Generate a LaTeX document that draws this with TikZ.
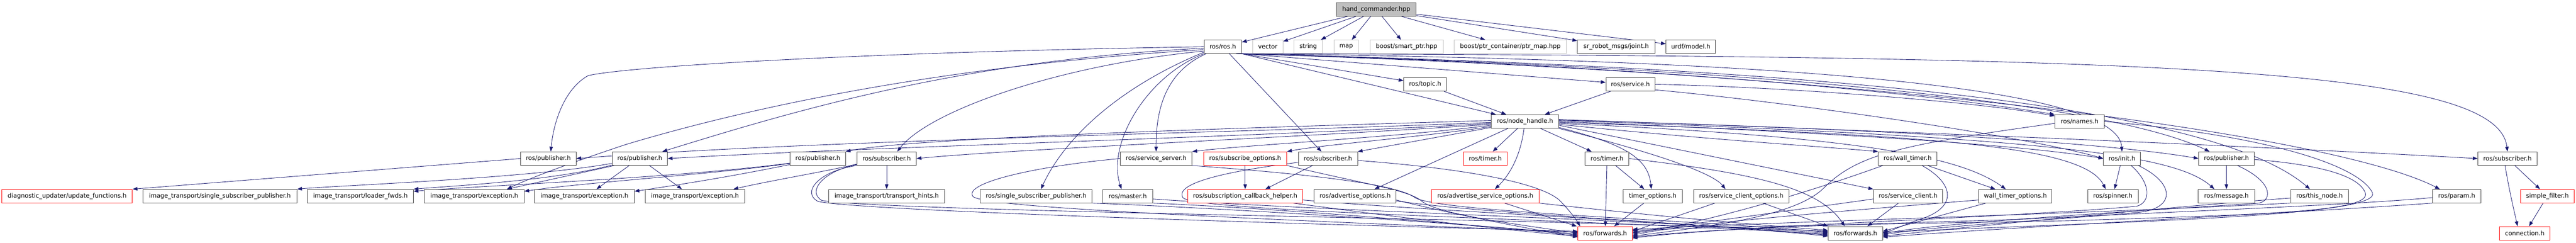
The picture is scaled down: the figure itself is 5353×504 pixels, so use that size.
\documentclass[tikz,border=0pt]{standalone}
\usepackage{fontspec}
\setmainfont{DejaVu Sans}
\usetikzlibrary{arrows.meta,calc}
\definecolor{edgec}{HTML}{191970}
\definecolor{nodeb}{HTML}{404040}
\definecolor{grayb}{HTML}{BFBFBF}
\pgfdeclarelayer{bg}
\pgfsetlayers{bg,main}
\begin{document}
\begin{tikzpicture}[x=0.75pt,y=-0.75pt,font=\fontsize{9.5}{11}\selectfont,
  nb/.style={draw=nodeb,fill=white,line width=0.75pt,minimum height=21pt,inner sep=0pt,text=black},
  ng/.style={nb,draw=grayb},
  nr/.style={nb,draw=red},
  bw/.style={minimum width=#1*0.75pt},
  e/.style={draw=edgec,line width=0.7pt,-{Triangle[length=7.5pt,width=5.5pt]}}]
\useasboundingbox (0,0) rectangle (5353,504);
% row 0
\node[nb,fill=grayb,bw=166] (hc) at (2860,19.5) {hand\_commander.hpp};
% row 1
\node[nb,bw=78] (rosh) at (2541,97) {ros/ros.h};
\node[ng,bw=63] (vector) at (2634.5,97) {vector};
\node[ng,bw=59] (string) at (2718.5,97) {string};
\node[ng,bw=51] (map) at (2797.5,97) {map};
\node[ng,bw=152] (smartptr) at (2923,97) {boost/smart\_ptr.hpp};
\node[ng,bw=233] (ptrmap) at (3138.5,97) {boost/ptr\_container/ptr\_map.hpp};
\node[nb,bw=161] (joint) at (3358.5,97) {sr\_robot\_msgs/joint.h};
\node[nb,bw=103] (model) at (3513.5,97) {urdf/model.h};
% row 2
\node[nb,bw=89] (topic) at (2961.5,175) {ros/topic.h};
\node[nb,bw=102] (service) at (3388,175) {ros/service.h};
% row 3
\node[nb,bw=140] (nh) at (3169,252) {ros/node\_handle.h};
\node[nb,bw=103] (names) at (4321.5,252) {ros/names.h};
% row 4
\node[nb,bw=115] (pubA) at (1139.5,329) {ros/publisher.h};
\node[nb,bw=115] (pubB) at (1329.5,329) {ros/publisher.h};
\node[nb,bw=115] (pubC) at (1699.5,329) {ros/publisher.h};
\node[nb,bw=123] (subA) at (1842.5,329) {ros/subscriber.h};
\node[nb,bw=149] (servserver) at (2402.5,329) {ros/service\_server.h};
\node[nr,bw=173] (subopts) at (2587.5,329) {ros/subscribe\_options.h};
\node[nb,bw=123] (subB) at (2759.5,329) {ros/subscriber.h};
\node[nr,bw=91] (timerR) at (3086.5,329) {ros/timer.h};
\node[nb,bw=91] (timer) at (3339.5,329) {ros/timer.h};
\node[nb,bw=122] (walltimer) at (3964,329) {ros/wall\_timer.h};
\node[nb,bw=77] (init) at (4409.5,329) {ros/init.h};
\node[nb,bw=115] (pubD) at (4626.5,329) {ros/publisher.h};
\node[nb,bw=123] (subC) at (5210.5,329) {ros/subscriber.h};
% row 5
\node[nr,bw=271] (diag) at (139.5,407) {diagnostic\_updater/update\_functions.h};
\node[nb,bw=320] (itssp) at (457,407) {image\_transport/single\_subscriber\_publisher.h};
\node[nb,bw=220] (loader) at (749,407) {image\_transport/loader\_fwds.h};
\node[nb,bw=207] (exc1) at (985.5,407) {image\_transport/exception.h};
\node[nb,bw=207] (exc2) at (1214.5,407) {image\_transport/exception.h};
\node[nb,bw=206] (exc3) at (1444,407) {image\_transport/exception.h};
\node[nb,bw=241] (hints) at (1842.5,407) {image\_transport/transport\_hints.h};
\node[nb,bw=232] (rssp) at (2153,407) {ros/single\_subscriber\_publisher.h};
\node[nb,bw=103] (master) at (2343.5,407) {ros/master.h};
\node[nr,bw=239] (subcb) at (2587.5,407) {ros/subscription\_callback\_helper.h};
\node[nb,bw=170] (advopts) at (2816,407) {ros/advertise\_options.h};
\node[nr,bw=223] (advsrv) at (3086.5,407) {ros/advertise\_service\_options.h};
\node[nb,bw=123] (timeropts) at (3434.5,407) {timer\_options.h};
\node[nb,bw=199] (scopts) at (3618.5,407) {ros/service\_client\_options.h};
\node[nb,bw=144] (sclient) at (3965,407) {ros/service\_client.h};
\node[nb,bw=152] (wtopts) at (4188,407) {wall\_timer\_options.h};
\node[nb,bw=105] (spinner) at (4390.5,407) {ros/spinner.h};
\node[nb,bw=117] (message) at (4626.5,407) {ros/message.h};
\node[nb,bw=120] (thisnode) at (4820,407) {ros/this\_node.h};
\node[nb,bw=100] (param) at (5105,407) {ros/param.h};
\node[nr,bw=111] (sfilter) at (5293.5,407) {simple\_filter.h};
% row 6
\node[nr,bw=113] (fwdR) at (3335.5,484) {ros/forwards.h};
\node[nb,bw=113] (fwdB) at (3855.5,484) {ros/forwards.h};
\node[nr,bw=105] (conn) at (5246.5,484) {connection.h};

\begin{pgfonlayer}{bg}
% ---- edges from hand_commander
\foreach \t in {rosh,vector,string,map,smartptr,ptrmap,joint,model} \draw[e] (hc) -- (\t);
% ---- ros.h
\draw[e] (rosh.south east) -- (topic);
\draw[e] (rosh.south east) -- (service);
\draw[e] (rosh.south east) -- (nh);
\draw[e] (rosh) -- (subB);
\draw[e] (rosh.west) .. controls (1800,108) and (1300,138) .. (1222,157) .. controls (1172,185) and (1150,255) .. ($(pubA.north)+(5,0)$);
\draw[e] ($(rosh.west)+(0,3)$) .. controls (2000,125) and (1650,230) .. ($(pubB.north)+(47,0)$);
\draw[e] ($(rosh.west)+(0,6)$) .. controls (1900,140) and (1500,240) .. (1300,300) .. controls (1180,340) and (1100,370) .. ($(exc1.north)+(68,0)$);
\draw[e] ($(rosh.west)+(0,9)$) .. controls (2200,135) and (1930,230) .. ($(subA.north)+(22,0)$);
\draw[e] ($(rosh.south west)+(0,-3)$) .. controls (2350,170) and (2220,270) .. ($(rssp.north)+(10,0)$);
\draw[e] (rosh.south west) .. controls (2380,160) and (2300,300) .. ($(master.north)+(-13,0)$);
\draw[e] ($(rosh.south west)+(5,0)$) .. controls (2420,150) and (2402,230) .. (servserver.north);
\draw[e] ($(rosh.south east)+(-4,0)$) .. controls (3300,130) and (3950,185) .. (names.north west);
\draw[e] ($(rosh.south east)+(-6,0)$) .. controls (3600,122) and (4400,170) .. (init.north);
\draw[e] ($(rosh.south east)+(-8,0)$) .. controls (3500,135) and (4350,200) .. ($(pubD.north)+(-35,0)$);
\draw[e] ($(rosh.south east)+(-10,0)$) .. controls (3800,140) and (4600,220) .. ($(thisnode.north)+(-20,0)$);
\draw[e] ($(rosh.south east)+(-12,0)$) .. controls (3900,150) and (4850,280) .. ($(param.north)+(-35,0)$);
\draw[e] ($(rosh.south east)+(-2,0)$) .. controls (4500,116) and (5190,140) .. (subC.north);
% ---- topic, service
\draw[e] (topic) -- (nh);
\draw[e] (service) -- (nh);
\draw[e] (service.east) .. controls (3700,180) and (4100,210) .. ($(names.north west)+(0,3)$);
\draw[e] ($(service.south east)+(0,-3)$) .. controls (3700,210) and (4200,280) .. (init.west);
% ---- node_handle
\draw[e] ($(nh.west)+(0,2)$) .. controls (2600,275) and (1700,290) .. (pubA.east);
\draw[e] ($(nh.west)+(0,4)$) .. controls (2600,285) and (1800,305) .. (pubB.east);
\draw[e] ($(nh.west)+(0,-2)$) .. controls (2600,265) and (1900,285) .. (pubC.north east);
\draw[e] ($(nh.west)+(0,6)$) .. controls (2700,285) and (2100,310) .. (subA.east);
\draw[e] ($(nh.west)+(0,8)$) .. controls (2900,285) and (2600,300) .. (servserver.north east);
\draw[e] ($(nh.south west)+(0,-4)$) .. controls (2950,285) and (2750,300) .. (subopts.north east);
\draw[e] ($(nh.south west)+(0,-2)$) -- (subB.north east);
\draw[e] (nh) -- (timerR);
\draw[e] ($(nh.south west)+(35,0)$) -- ($(advopts.north)+(40,0)$);
\draw[e] ($(nh.south)+(-2,0)$) .. controls (3160,320) and (3140,360) .. ($(advsrv.north)+(20,0)$);
\draw[e] (nh) -- (timer);
\draw[e] ($(nh.south east)+(0,-2)$) .. controls (3380,300) and (3425,330) .. ($(timeropts.north)+(-3,0)$);
\draw[e] (nh.south east) .. controls (3450,320) and (3560,360) .. ($(scopts.north)+(-33,0)$);
\draw[e] ($(nh.east)+(0,8)$) -- (sclient.north west);
\draw[e] ($(nh.east)+(0,6)$) .. controls (3550,290) and (3800,305) .. (walltimer.north west);
\draw[e] ($(nh.east)+(0,4)$) .. controls (3900,285) and (4080,330) .. ($(wtopts.north)+(-20,0)$);
\draw[e] ($(nh.east)+(0,2)$) .. controls (4000,280) and (4330,300) .. ($(spinner.north)+(-15,0)$);
\draw[e] (nh.east) .. controls (3800,275) and (4200,300) .. (init.west);
\draw[e] ($(nh.east)+(0,-2)$) .. controls (4250,285) and (4520,320) .. ($(message.north)+(-25,0)$);
\draw[e] ($(nh.east)+(0,-3)$) .. controls (4000,270) and (4400,300) .. (pubD.west);
\draw[e] ($(nh.east)+(0,-4)$) .. controls (4300,285) and (4900,315) .. (subC.west);
% ---- left part
\draw[e] (pubA.west) -- (diag.north east);
\draw[e] ($(pubB.west)+(0,10)$) .. controls (1100,370) and (700,385) .. (itssp.north east);
\draw[e] ($(pubB.south west)+(0,-1)$) .. controls (1150,375) and (950,385) .. (loader.north east);
\draw[e] ($(pubB.south west)+(5,0)$) -- ($(exc1.north)+(68,0)$);
\draw[e] ($(pubB.south)+(-22,0)$) -- ($(exc2.north)+(25,0)$);
\draw[e] ($(pubB.south west)+(78,0)$) -- ($(exc3.north)+(-27,0)$);
\draw[e] ($(pubC.south west)+(0,-5)$) .. controls (1400,370) and (1000,385) .. ($(loader.east)+(0,-10)$);
\draw[e] ($(pubC.west)+(0,10)$) .. controls (1500,360) and (1200,380) .. ($(exc1.east)+(0,-10)$);
\draw[e] ($(pubC.south west)+(0,-2)$) .. controls (1500,370) and (1400,385) .. ($(exc2.east)+(0,-10)$);
\draw[e] ($(subA.south west)+(0,-3)$) .. controls (1720,355) and (1600,375) .. ($(exc3.north)+(80,0)$);
\draw[e] (subA) -- (hints);
% ---- to forwards from the left
\draw[e] (subA.south west) .. controls (1700,355) and (1665,400) .. (1700,418) .. controls (1800,440) and (2900,470) .. ($(fwdR.west)+(0,-4)$);
\draw[e] ($(subA.south west)+(0,-2)$) .. controls (1710,355) and (1676,398) .. (1708,416) .. controls (1850,440) and (3300,455) .. ($(fwdB.west)+(0,-4)$);
\draw[e] (servserver.west) .. controls (2150,345) and (2000,380) .. (2022,408) .. controls (2050,430) and (2500,450) .. ($(fwdR.west)+(0,-2)$);
\draw[e] (servserver.south east) .. controls (2700,360) and (2900,380) .. (2940,410) .. controls (2990,440) and (3500,455) .. ($(fwdB.west)+(0,-2)$);
\draw[e] ($(subB.west)+(0,8)$) .. controls (2550,355) and (2440,380) .. (2458,410) .. controls (2480,440) and (3300,455) .. ($(fwdB.west)+(0,2)$);
\draw[e] ($(subB.south)+(-32,0)$) -- ($(subcb.north)+(42,0)$);
\draw[e] ($(subB.east)+(0,4)$) .. controls (3050,350) and (3200,380) .. (3240,415) .. controls (3260,435) and (3275,455) .. ($(fwdR.north west)+(5,0)$);
\draw[e] (subopts) -- (subcb);
\draw[e] (subopts.south east) .. controls (2850,385) and (2930,395) .. (2955,418) .. controls (2990,445) and (3150,465) .. ($(fwdR.west)+(0,0)$);
\draw[e] (rssp.south east) .. controls (2500,430) and (3000,460) .. ($(fwdR.west)+(0,2)$);
\draw[e] (master.south east) .. controls (2700,435) and (3100,470) .. ($(fwdR.west)+(0,4)$);
\draw[e] ($(master.east)+(0,6)$) .. controls (2800,440) and (3400,455) .. ($(fwdB.west)+(0,0)$);
\draw[e] ($(subcb.south east)+(-20,0)$) .. controls (2900,450) and (3100,475) .. ($(fwdR.west)+(0,6)$);
\draw[e] ($(subcb.east)+(0,8)$) .. controls (3000,440) and (3500,460) .. ($(fwdB.west)+(0,4)$);
\draw[e] ($(advopts.east)+(0,8)$) .. controls (3000,440) and (3150,470) .. ($(fwdR.west)+(0,8)$);
\draw[e] ($(advopts.east)+(0,10)$) .. controls (3100,445) and (3500,460) .. ($(fwdB.west)+(0,6)$);
\draw[e] ($(advsrv.south)+(40,0)$) -- ($(fwdR.north west)+(-2,0)$);
\draw[e] (advsrv.south east) .. controls (3500,455) and (3700,470) .. ($(fwdB.west)+(0,-6)$);
\draw[e] (timer) -- (timeropts);
\draw[e] (timer) -- (fwdR);
\draw[e] (timer.east) .. controls (3650,360) and (3780,390) .. ($(fwdB.north)+(-22,0)$);
\draw[e] (timeropts) -- (fwdR);
% ---- to forwards from the right
\draw[e] ($(scopts.south west)+(45,0)$) -- ($(fwdR.east)+(0,-4)$);
\draw[e] ($(scopts.south)+(45,0)$) -- (fwdB.north west);
\draw[e] ($(sclient.south)+(-20,0)$) -- ($(fwdB.north)+(25,0)$);
\draw[e] ($(sclient.west)+(0,6)$) -- ($(fwdR.east)+(0,-2)$);
\draw[e] (walltimer) -- (wtopts);
\draw[e] ($(walltimer.south west)+(10,0)$) .. controls (3700,420) and (3500,470) .. (fwdR.east);
\draw[e] ($(walltimer.south)+(30,0)$) .. controls (4060,380) and (4070,430) .. (3990,455) .. controls (3960,465) and (3940,475) .. (fwdB.east);
\draw[e] ($(wtopts.west)+(0,8)$) .. controls (3800,440) and (3500,465) .. ($(fwdR.east)+(0,4)$);
\draw[e] ($(wtopts.south west)+(15,0)$) -- ($(fwdB.east)+(0,-4)$);
\draw[e] ($(names.west)+(0,4)$) .. controls (3950,300) and (3860,320) .. (3790,390) .. controls (3730,450) and (3550,470) .. ($(fwdR.east)+(0,6)$);
\draw[e] (names.east) .. controls (4700,280) and (4900,340) .. (4930,400) .. controls (4950,450) and (4400,460) .. ($(fwdB.east)+(0,-2)$);
\draw[e] (init) -- (spinner);
\draw[e] ($(init.south east)+(-20,0)$) .. controls (4470,380) and (4470,420) .. (4440,428) .. controls (4200,450) and (3600,470) .. ($(fwdR.east)+(0,8)$);
\draw[e] ($(init.south east)+(-5,0)$) .. controls (4520,380) and (4520,430) .. (4450,440) .. controls (4300,455) and (4000,470) .. ($(fwdB.east)+(0,4)$);
\draw[e] (pubD) -- (message);
\draw[e] ($(pubD.south east)+(-35,0)$) .. controls (4730,380) and (4720,420) .. (4690,422) .. controls (4400,440) and (4000,465) .. ($(fwdB.east)+(0,2)$);
\draw[e] ($(pubD.east)+(0,2)$) .. controls (4800,340) and (4900,360) .. (4915,400) .. controls (4930,440) and (4700,445) .. (4300,458) .. controls (3900,465) and (3600,470) .. ($(fwdR.east)+(0,-6)$);
\draw[e] ($(thisnode.west)+(0,4)$) .. controls (4500,430) and (4100,470) .. ($(fwdB.east)+(0,6)$);
\draw[e] (thisnode.south west) .. controls (4300,445) and (3700,460) .. ($(fwdR.east)+(0,-8)$);
\draw[e] ($(param.west)+(0,3)$) .. controls (4900,425) and (4500,440) .. (4200,455) .. controls (3900,465) and (3600,470) .. ($(fwdR.east)+(0,10)$);
\draw[e] (param.south west) .. controls (4800,440) and (4200,470) .. ($(fwdB.east)+(0,8)$);
\draw[e] (subC) -- (sfilter);
\draw[e] ($(subC.south)+(-5,0)$) .. controls (5215,400) and (5225,440) .. ($(conn.north)+(-15,0)$);
\draw[e] (sfilter) -- (conn);
\end{pgfonlayer}
\end{tikzpicture}
\end{document}
